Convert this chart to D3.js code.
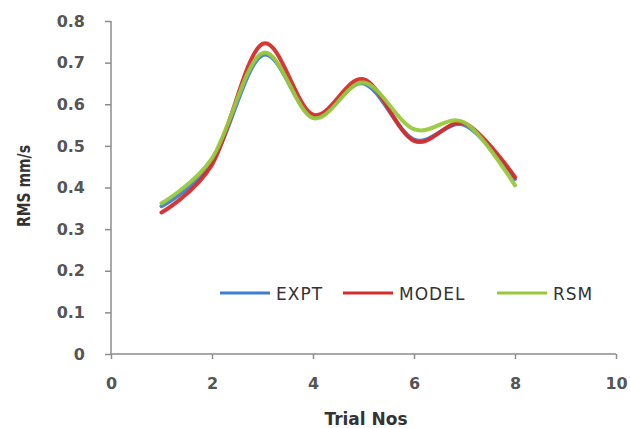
<!DOCTYPE html>
<html><head><meta charset="utf-8">
<script src="https://cdn.jsdelivr.net/npm/d3@7"></script>
<style>body{margin:0;background:#fff}svg{display:block}</style>
</head><body>
<svg id="c" width="630" height="428"></svg>
<script>
const trials = [1,2,3,4,5,6,7,8];
const expt  = [0.355,0.460,0.718,0.570,0.650,0.515,0.550,0.420];
const model = [0.340,0.455,0.745,0.575,0.660,0.512,0.554,0.425];
const rsm   = [0.362,0.470,0.723,0.567,0.652,0.540,0.556,0.405];
const xTicks = [0,2,4,6,8,10];
const yTicks = [0,0.1,0.2,0.3,0.4,0.5,0.6,0.7,0.8];
const seriesNames = ["EXPT","MODEL","RSM"];
const seriesColors = ["#3f7fcf","#d62c2c","#98c93c"];

const svg = d3.select("#c");
const x = d3.scaleLinear().domain([0,10]).range([111,616]);
const y = d3.scaleLinear().domain([0,0.8]).range([354,21]);

const font = "'DejaVu Sans', sans-serif";
const xAxis = svg.append("g").attr("transform","translate(0,354)")
  .call(d3.axisBottom(x).tickValues(xTicks).tickSize(5).tickPadding(19).tickFormat(d3.format("d")));
const yAxis = svg.append("g").attr("transform","translate(111,0)")
  .call(d3.axisLeft(y).tickValues(yTicks).tickSize(6).tickPadding(20).tickFormat(d=>d===0?"0":d3.format(".1f")(d)));
[xAxis,yAxis].forEach(a=>{
  a.selectAll("path,line").attr("stroke","#8c8c8c").attr("stroke-width",1.5);
  a.selectAll("text").attr("fill","#555").style("font-family",font).style("font-size","16px").style("font-weight","700");
});
xAxis.select(".domain").attr("d","M111,0H616");
yAxis.select(".domain").attr("d","M0,21V354");

svg.append("text").attr("x",366).attr("y",425).attr("text-anchor","middle")
  .style("font-family",font).style("font-size","17px").style("font-weight","700").attr("fill","#333").text("Trial Nos");
svg.append("text").attr("transform","translate(30,186) rotate(-90)").attr("text-anchor","middle")
  .attr("textLength",82).attr("lengthAdjust","spacingAndGlyphs")
  .style("font-family",font).style("font-size","18px").style("font-weight","700").attr("fill","#333").text("RMS mm/s");

const line = d3.line().x((d,i)=>x(trials[i])).y(d=>y(d)).curve(d3.curveCardinal.tension(0));
const data = [expt, model, rsm];
data.forEach((s,i)=>{
  svg.append("path").attr("d",line(s)).attr("fill","none")
    .attr("stroke",seriesColors[i]).attr("stroke-width",4).attr("stroke-linecap","round").attr("opacity",0.95);
});

const legX = [220,343,497];
const leg = svg.append("g");
seriesNames.forEach((n,i)=>{
  leg.append("line").attr("x1",legX[i]).attr("x2",legX[i]+50).attr("y1",293).attr("y2",293)
    .attr("stroke",seriesColors[i]).attr("stroke-width",3);
  leg.append("text").attr("x",legX[i]+56).attr("y",300)
    .style("font-family",font).style("font-size","17px").style("letter-spacing","1px").attr("fill","#333").text(n);
});
</script>
</body></html>
